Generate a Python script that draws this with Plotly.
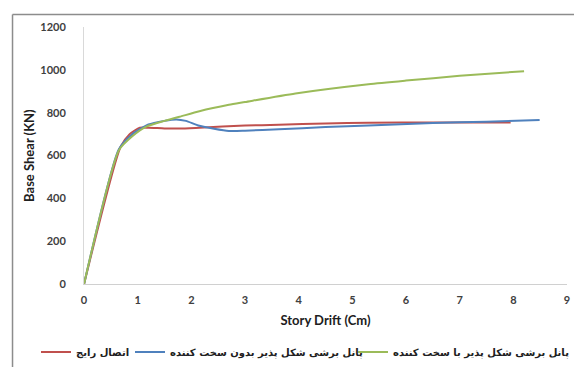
import plotly.graph_objects as go

# Data
red_name = "اتصال رایج"
red_x = [0, 0.68, 0.85, 1.04, 1.2, 1.5, 1.78, 2.15, 3.0, 3.63, 4.5, 5.3, 6.5, 7.95]
red_y = [0, 640, 700, 730, 730, 727, 726, 730, 740, 744, 750, 753, 755, 754]

blue_name = "پانل برشی شکل پذیر بدون سخت کننده"
blue_x = [0, 0.65, 0.9, 1.2, 1.5, 1.72, 1.9, 2.15, 2.7, 3.0, 3.63, 4.5, 5.3, 6.5, 7.5, 8.49]
blue_y = [0, 630, 700, 745, 762, 769, 762, 739, 715, 716, 723, 733, 741, 752, 758, 766]

green_name = "پانل برشی شکل پذیر با سخت کننده"
green_x = [0, 0.65, 0.9, 1.16, 1.5, 1.78, 2.15, 2.7, 3.0, 3.94, 5.3, 6.0, 7.0, 8.2]
green_y = [0, 625, 690, 735, 762, 781, 807, 837, 850, 890, 933, 950, 972, 994]

x_ticks = [0, 1, 2, 3, 4, 5, 6, 7, 8, 9]
y_ticks = [0, 200, 400, 600, 800, 1000, 1200]

W, H = 574, 359  # page body has an 8px margin in a 582x367 window

fig = go.Figure()
for name, xs, ys, col, lg in [
    (red_name, red_x, red_y, "#C0504D", "legend"),
    (blue_name, blue_x, blue_y, "#4F81BD", "legend2"),
    (green_name, green_x, green_y, "#9BBB59", "legend3"),
]:
    fig.add_trace(go.Scatter(x=xs, y=ys, name=name, mode="lines", legend=lg,
                             line=dict(color=col, width=2, shape="spline", smoothing=0.6)))

tick_font = dict(family="Lato", size=11, color="#404040", weight="bold")
title_font = dict(family="Lato", size=13, color="#202020", weight="bold")
leg_font = dict(family="DejaVu Sans", size=10, color="#202020", weight="bold")
leg_y = 1 - (352 - 8) / H


def leg(px):
    return dict(orientation="h", xref="container", yref="container",
                x=(px - 8) / W, xanchor="left", y=leg_y, yanchor="middle",
                itemwidth=30, font=leg_font, bgcolor="rgba(0,0,0,0)")


fig.update_layout(
    width=W, height=H,
    margin=dict(l=76, r=12, t=14, b=82),
    paper_bgcolor="white", plot_bgcolor="white",
    showlegend=True,
    legend=leg(36), legend2=leg(130), legend3=leg(353),
    xaxis=dict(range=[0, 9], tickvals=x_ticks, showgrid=False, zeroline=False,
               showline=True, linecolor="#d0d0d0", linewidth=1, ticks="",
               tickfont=tick_font, ticklabelstandoff=6,
               title=dict(text="Story Drift (Cm)", standoff=10, font=title_font)),
    yaxis=dict(range=[0, 1200], tickvals=y_ticks, showgrid=False, zeroline=False,
               showline=True, linecolor="#d9d9d9", linewidth=1, ticks="",
               tickfont=tick_font, ticklabelstandoff=15,
               title=dict(text="Base Shear (KN)", standoff=2, font=title_font)),
)

# outer frame of the original chart area (cut off at right and bottom)
fig.add_shape(type="line", xref="paper", yref="paper",
              x0=-0.148, x1=-0.148, y0=1.049, y1=-0.35,
              line=dict(color="#8c8c8c", width=1.5))
fig.add_shape(type="line", xref="paper", yref="paper",
              x0=-0.148, x1=1.1, y0=1.049, y1=1.049,
              line=dict(color="#8c8c8c", width=1.5))

fig.write_html("out.html")
